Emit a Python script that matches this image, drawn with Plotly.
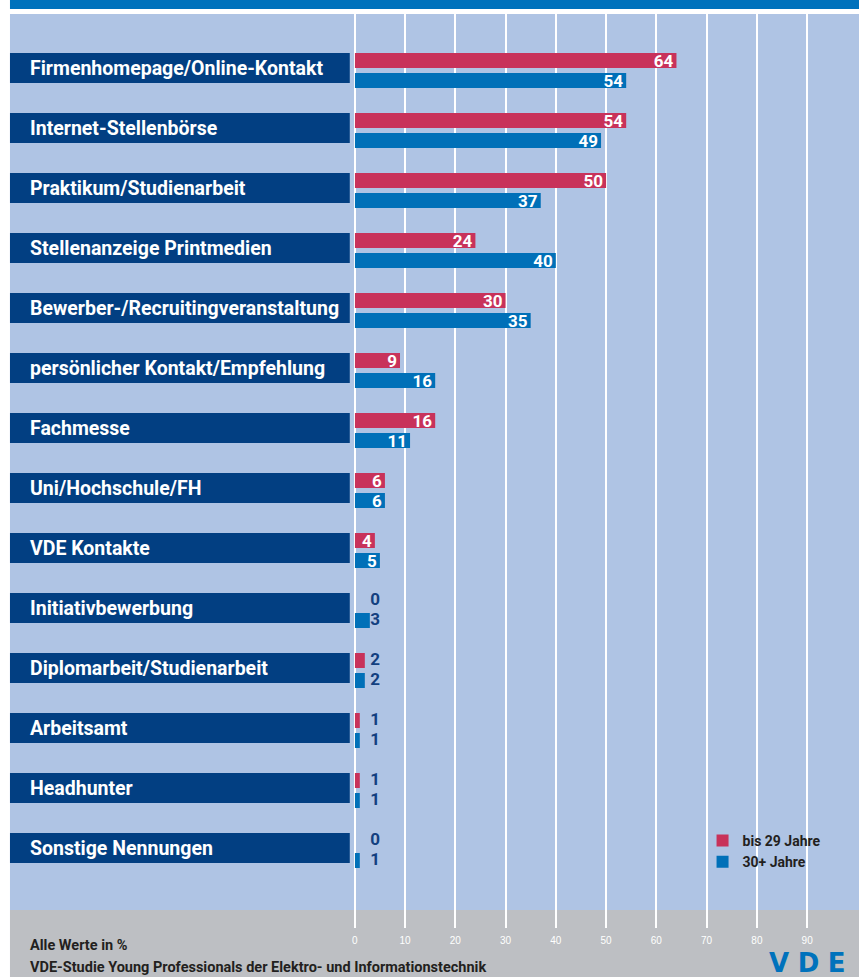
import plotly.graph_objects as go

# data (values in %)
categories = [
    "Firmenhomepage/Online-Kontakt",
    "Internet-Stellenbörse",
    "Praktikum/Studienarbeit",
    "Stellenanzeige Printmedien",
    "Bewerber-/Recruitingveranstaltung",
    "persönlicher Kontakt/Empfehlung",
    "Fachmesse",
    "Uni/Hochschule/FH",
    "VDE Kontakte",
    "Initiativbewerbung",
    "Diplomarbeit/Studienarbeit",
    "Arbeitsamt",
    "Headhunter",
    "Sonstige Nennungen",
]
bis29 = [64, 54, 50, 24, 30, 9, 16, 6, 4, 0, 2, 1, 1, 0]
ab30 = [54, 49, 37, 40, 35, 16, 11, 6, 5, 3, 2, 1, 1, 1]
series_names = ["bis 29 Jahre", "30+ Jahre"]
x_ticks = [0, 10, 20, 30, 40, 50, 60, 70, 80, 90]

W, H = 859, 977
RED = "#c8325a"
BLUE = "#0070b8"
DARK = "#023f82"
LIGHT = "#afc4e4"
GRAY = "#bdbfc3"
TOP = "#0072bc"
FONT = "Roboto, DejaVu Sans Condensed, sans-serif"

n = len(categories)
idx = list(range(n))
red_y = [i - 0.125 for i in idx]
blue_y = [i + 0.2083 for i in idx]
INSIDE_MIN = 4

fig = go.Figure()

for vals, ys, col, name in [(bis29, red_y, RED, series_names[0]), (ab30, blue_y, BLUE, series_names[1])]:
    fig.add_trace(go.Bar(
        x=vals, y=ys, orientation="h", width=0.25,
        marker=dict(color=col, line=dict(width=0)),
        name=name,
        text=[str(v) if v >= INSIDE_MIN else "" for v in vals],
        textposition="inside", insidetextanchor="end", textangle=0,
        constraintext="none",
        textfont=dict(family=FONT, size=17, color="white", weight="bold"),
        hoverinfo="skip",
    ))

# small values: labels outside the bars, dark blue
small_x, small_y, small_t = [], [], []
for vals, ys in [(bis29, red_y), (ab30, blue_y)]:
    for v, y in zip(vals, ys):
        if v < INSIDE_MIN:
            small_x.append(3.1)
            small_y.append(y)
            small_t.append(str(v))
fig.add_trace(go.Scatter(
    x=small_x, y=small_y, mode="text", text=small_t,
    textposition="middle right", showlegend=False, hoverinfo="skip",
    textfont=dict(family=FONT, size=17, color="#13407f", weight="bold"),
))

shapes = [
    # top blue band
    dict(type="rect", xref="paper", yref="paper", x0=7 / W, x1=1, y0=1 - 9 / H, y1=1,
         fillcolor=TOP, line=dict(width=0), layer="below"),
    # light blue panel
    dict(type="rect", xref="paper", yref="paper", x0=7 / W, x1=1, y0=1 - 910 / H, y1=1 - 14 / H,
         fillcolor=LIGHT, line=dict(width=0), layer="below"),
    # gray footer band
    dict(type="rect", xref="paper", yref="paper", x0=7 / W, x1=1, y0=0, y1=1 - 910 / H,
         fillcolor=GRAY, line=dict(width=0), layer="below"),
]
annotations = []
for i, cat in enumerate(categories):
    shapes.append(dict(type="rect", xref="paper", yref="y", x0=7 / W, x1=348 / W,
                       y0=i - 0.25, y1=i + 0.25, fillcolor=DARK, line=dict(width=0)))
    annotations.append(dict(xref="paper", yref="y", x=25 / W, y=i, text=cat,
                            showarrow=False, xanchor="left", yanchor="middle",
                            font=dict(family=FONT, size=19.5, color="white", weight="bold")))

annotations += [
    dict(xref="paper", yref="paper", x=25 / W, y=1 - 945 / H, text="Alle Werte in %",
         showarrow=False, xanchor="left", yanchor="middle",
         font=dict(family=FONT, size=14.5, color="#231f20", weight="bold")),
    dict(xref="paper", yref="paper", x=25 / W, y=1 - 967 / H,
         text="VDE-Studie Young Professionals der Elektro- und Informationstechnik",
         showarrow=False, xanchor="left", yanchor="middle",
         font=dict(family=FONT, size=14.5, color="#231f20", weight="bold")),
    dict(xref="paper", yref="paper", x=847 / W, y=-2 / H, text="V\u2004D\u2004E",
         showarrow=False, xanchor="right", yanchor="bottom", borderpad=0,
         font=dict(family="DejaVu Sans, sans-serif", size=26, color=TOP, weight="bold")),
]

fig.update_layout(
    width=W, height=H,
    margin=dict(l=0, r=0, t=0, b=0),
    paper_bgcolor="white",
    plot_bgcolor="rgba(0,0,0,0)",
    barmode="overlay",
    shapes=shapes,
    annotations=annotations,
    showlegend=True,
    legend=dict(x=702 / W, y=1 - 825 / H, xanchor="left", yanchor="top",
                bgcolor="rgba(0,0,0,0)", traceorder="normal",
                font=dict(family=FONT, size=14, color="#231f20", weight="bold")),
    xaxis=dict(domain=[353 / W, 1], range=[0, (W - 353) / 5.044],
               tickvals=x_ticks, showgrid=True, gridcolor="white", gridwidth=2,
               zeroline=True, zerolinecolor="white", zerolinewidth=2,
               ticks="", showline=False, ticklabelstandoff=5,
               tickfont=dict(family="Liberation Sans, Arial, sans-serif", size=10, color="white")),
    yaxis=dict(domain=[1 - 928 / H, 1 - 14 / H], range=[14.333, -0.9],
               showgrid=False, zeroline=False, showticklabels=False, ticks=""),
)

fig.write_html(
    "out.html",
    config={"displayModeBar": False},
    post_script="document.body.style.margin='0';document.documentElement.style.overflow='hidden';",
)
